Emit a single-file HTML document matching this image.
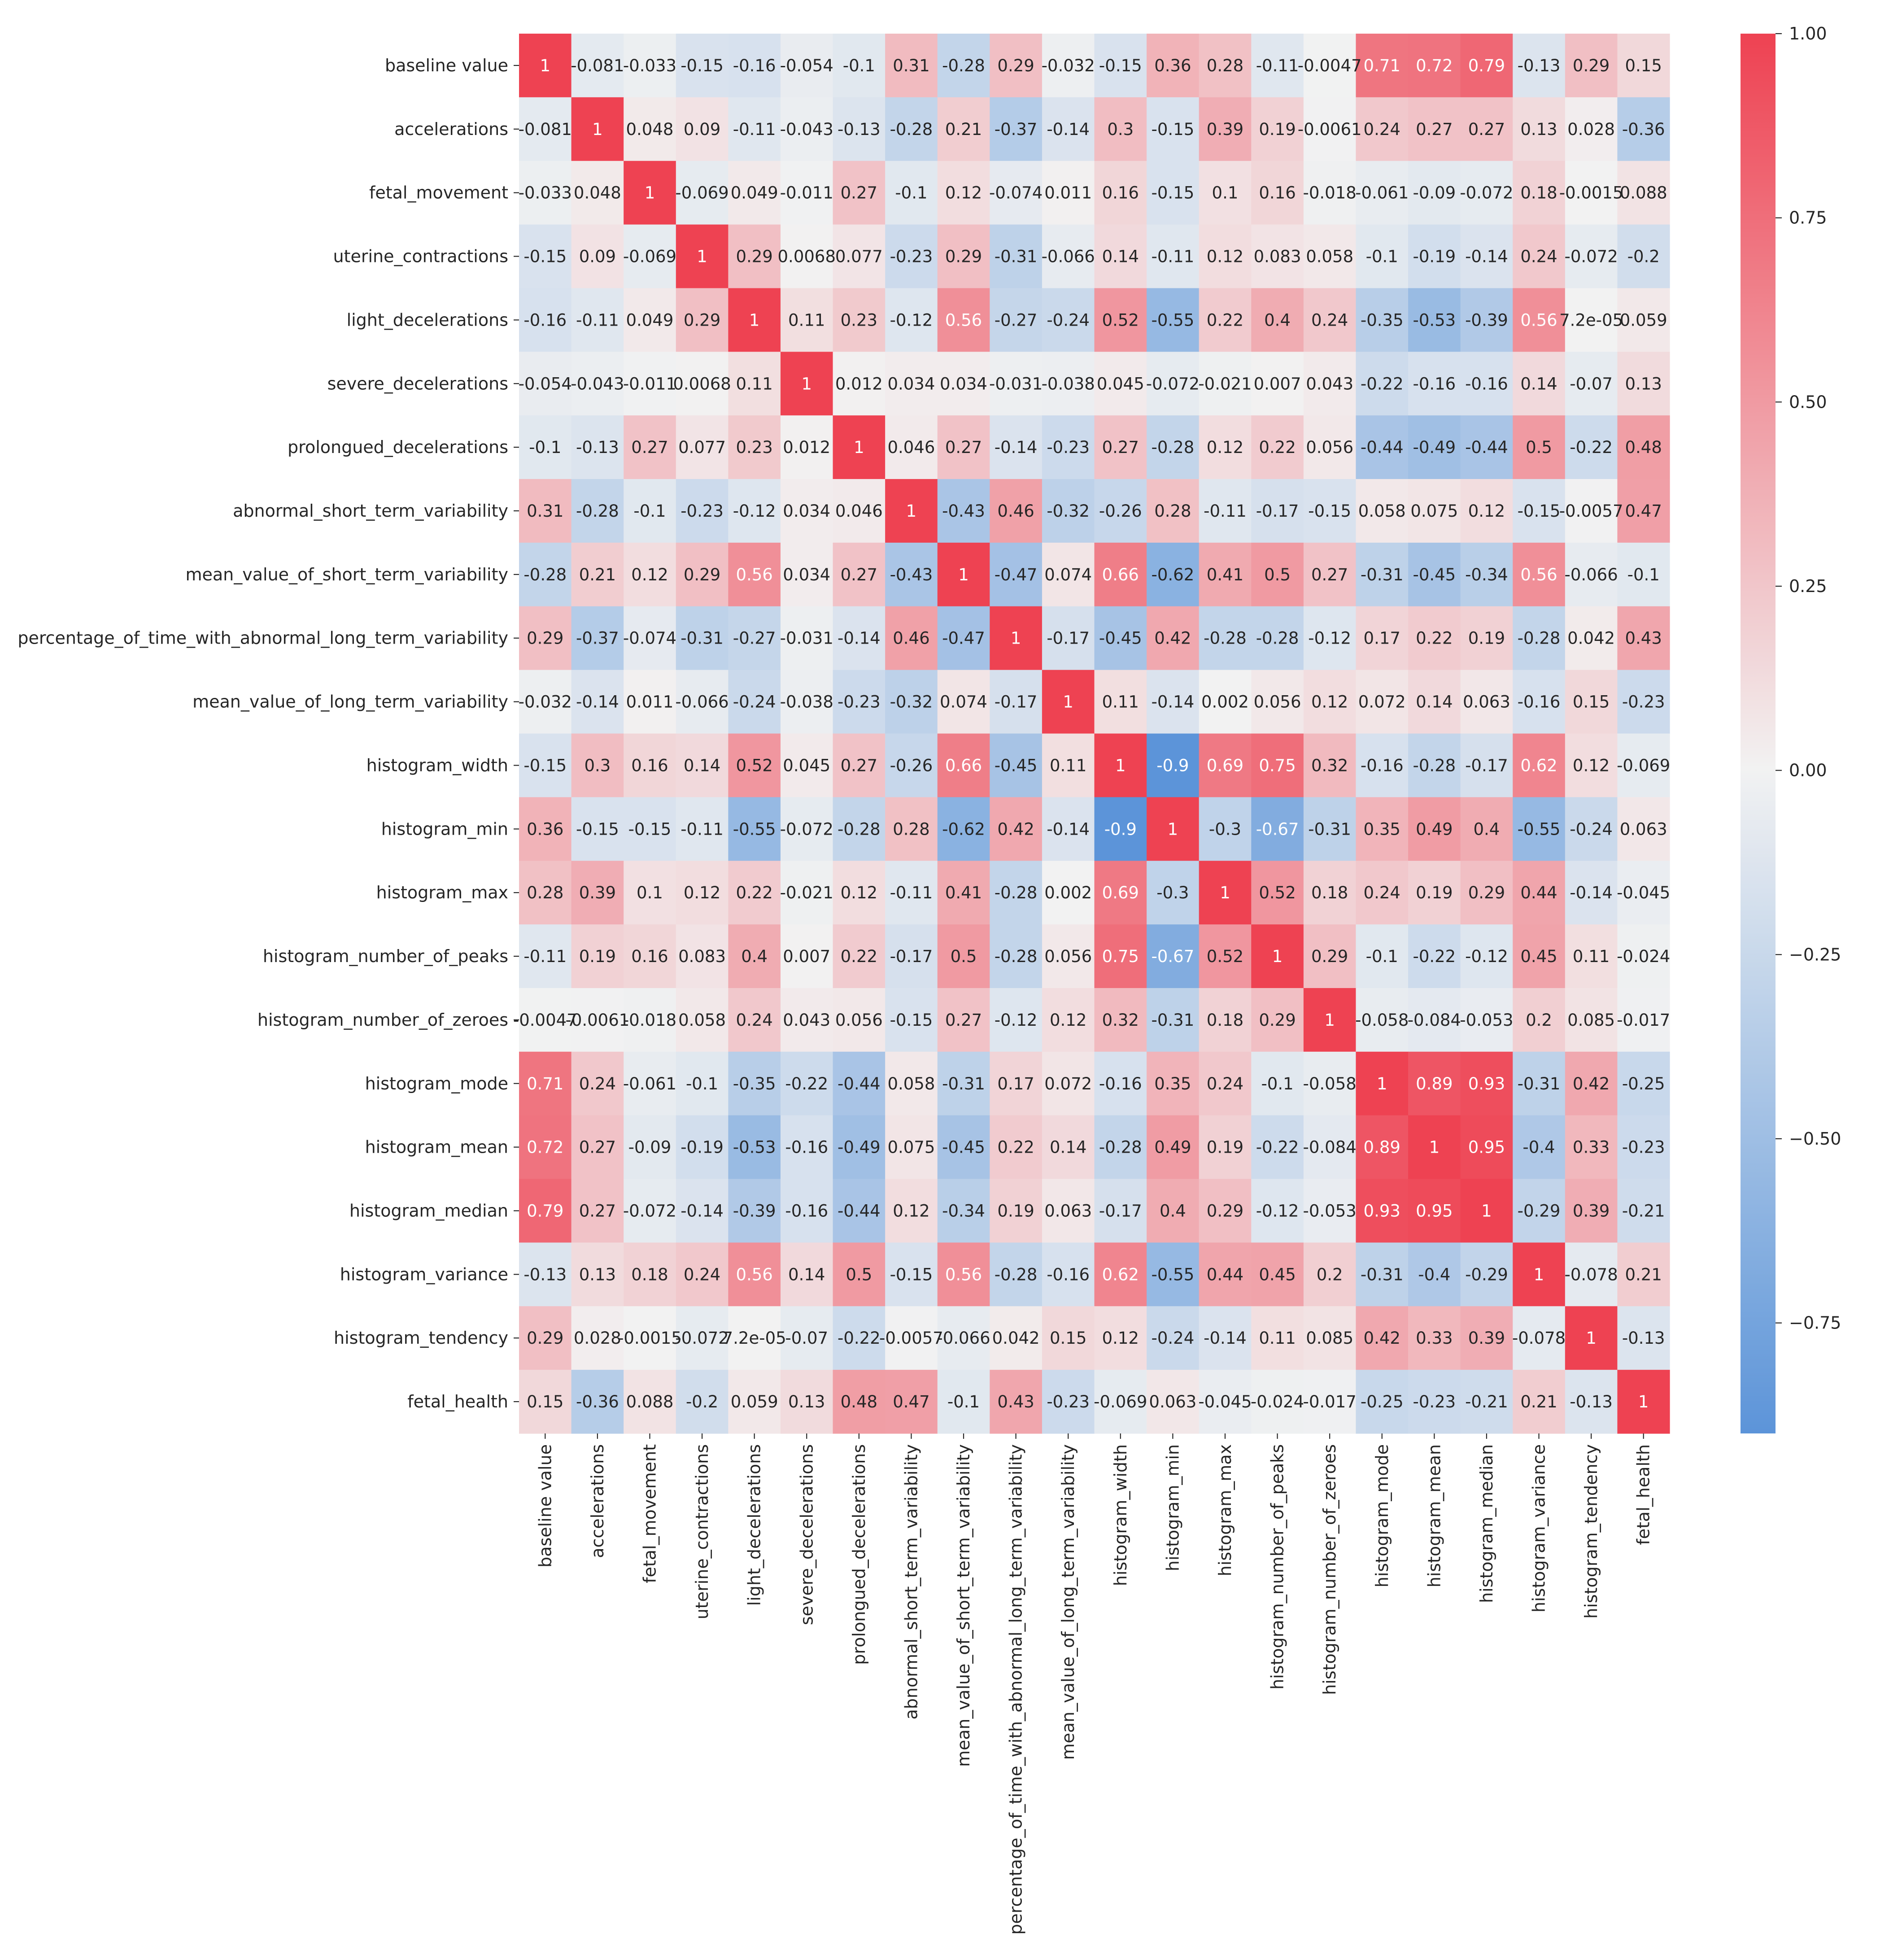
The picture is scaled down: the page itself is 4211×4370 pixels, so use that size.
<!DOCTYPE html>
<html><head><meta charset="utf-8">
<style>
html,body{margin:0;padding:0;background:#fff;}
svg{display:block;font-family:"DejaVu Sans","Liberation Sans",sans-serif;}
</style></head>
<body>
<svg id="chart" width="4211" height="4370" viewBox="0 0 4211 4370" xmlns="http://www.w3.org/2000/svg">
<defs>
<linearGradient id="cbgrad" x1="0" y1="1" x2="0" y2="0"></linearGradient>
</defs>
<g id="cells"></g>
<g id="annots"></g>
<g id="ylabels"></g>
<g id="xlabels"></g>
<g id="colorbar"></g>
</svg>
<script>
const labels = ["baseline value","accelerations","fetal_movement","uterine_contractions","light_decelerations","severe_decelerations","prolongued_decelerations","abnormal_short_term_variability","mean_value_of_short_term_variability","percentage_of_time_with_abnormal_long_term_variability","mean_value_of_long_term_variability","histogram_width","histogram_min","histogram_max","histogram_number_of_peaks","histogram_number_of_zeroes","histogram_mode","histogram_mean","histogram_median","histogram_variance","histogram_tendency","fetal_health"];
const row0 = [1,-0.081,-0.033,-0.15,-0.16,-0.054,-0.1,0.31,-0.28,0.29,-0.032,-0.15,0.36,0.28,-0.11,-0.0047,0.71,0.72,0.79,-0.13,0.29,0.15];
const row1 = [-0.081,1,0.048,0.09,-0.11,-0.043,-0.13,-0.28,0.21,-0.37,-0.14,0.3,-0.15,0.39,0.19,-0.0061,0.24,0.27,0.27,0.13,0.028,-0.36];
const row2 = [-0.033,0.048,1,-0.069,0.049,-0.011,0.27,-0.1,0.12,-0.074,0.011,0.16,-0.15,0.1,0.16,-0.018,-0.061,-0.09,-0.072,0.18,-0.0015,0.088];
const row3 = [-0.15,0.09,-0.069,1,0.29,0.0068,0.077,-0.23,0.29,-0.31,-0.066,0.14,-0.11,0.12,0.083,0.058,-0.1,-0.19,-0.14,0.24,-0.072,-0.2];
const row4 = [-0.16,-0.11,0.049,0.29,1,0.11,0.23,-0.12,0.56,-0.27,-0.24,0.52,-0.55,0.22,0.4,0.24,-0.35,-0.53,-0.39,0.56,7.2e-05,0.059];
const row5 = [-0.054,-0.043,-0.011,0.0068,0.11,1,0.012,0.034,0.034,-0.031,-0.038,0.045,-0.072,-0.021,0.007,0.043,-0.22,-0.16,-0.16,0.14,-0.07,0.13];
const row6 = [-0.1,-0.13,0.27,0.077,0.23,0.012,1,0.046,0.27,-0.14,-0.23,0.27,-0.28,0.12,0.22,0.056,-0.44,-0.49,-0.44,0.5,-0.22,0.48];
const row7 = [0.31,-0.28,-0.1,-0.23,-0.12,0.034,0.046,1,-0.43,0.46,-0.32,-0.26,0.28,-0.11,-0.17,-0.15,0.058,0.075,0.12,-0.15,-0.0057,0.47];
const row8 = [-0.28,0.21,0.12,0.29,0.56,0.034,0.27,-0.43,1,-0.47,0.074,0.66,-0.62,0.41,0.5,0.27,-0.31,-0.45,-0.34,0.56,-0.066,-0.1];
const row9 = [0.29,-0.37,-0.074,-0.31,-0.27,-0.031,-0.14,0.46,-0.47,1,-0.17,-0.45,0.42,-0.28,-0.28,-0.12,0.17,0.22,0.19,-0.28,0.042,0.43];
const row10 = [-0.032,-0.14,0.011,-0.066,-0.24,-0.038,-0.23,-0.32,0.074,-0.17,1,0.11,-0.14,0.002,0.056,0.12,0.072,0.14,0.063,-0.16,0.15,-0.23];
const row11 = [-0.15,0.3,0.16,0.14,0.52,0.045,0.27,-0.26,0.66,-0.45,0.11,1,-0.9,0.69,0.75,0.32,-0.16,-0.28,-0.17,0.62,0.12,-0.069];
const row12 = [0.36,-0.15,-0.15,-0.11,-0.55,-0.072,-0.28,0.28,-0.62,0.42,-0.14,-0.9,1,-0.3,-0.67,-0.31,0.35,0.49,0.4,-0.55,-0.24,0.063];
const row13 = [0.28,0.39,0.1,0.12,0.22,-0.021,0.12,-0.11,0.41,-0.28,0.002,0.69,-0.3,1,0.52,0.18,0.24,0.19,0.29,0.44,-0.14,-0.045];
const row14 = [-0.11,0.19,0.16,0.083,0.4,0.007,0.22,-0.17,0.5,-0.28,0.056,0.75,-0.67,0.52,1,0.29,-0.1,-0.22,-0.12,0.45,0.11,-0.024];
const row15 = [-0.0047,-0.0061,-0.018,0.058,0.24,0.043,0.056,-0.15,0.27,-0.12,0.12,0.32,-0.31,0.18,0.29,1,-0.058,-0.084,-0.053,0.2,0.085,-0.017];
const row16 = [0.71,0.24,-0.061,-0.1,-0.35,-0.22,-0.44,0.058,-0.31,0.17,0.072,-0.16,0.35,0.24,-0.1,-0.058,1,0.89,0.93,-0.31,0.42,-0.25];
const row17 = [0.72,0.27,-0.09,-0.19,-0.53,-0.16,-0.49,0.075,-0.45,0.22,0.14,-0.28,0.49,0.19,-0.22,-0.084,0.89,1,0.95,-0.4,0.33,-0.23];
const row18 = [0.79,0.27,-0.072,-0.14,-0.39,-0.16,-0.44,0.12,-0.34,0.19,0.063,-0.17,0.4,0.29,-0.12,-0.053,0.93,0.95,1,-0.29,0.39,-0.21];
const row19 = [-0.13,0.13,0.18,0.24,0.56,0.14,0.5,-0.15,0.56,-0.28,-0.16,0.62,-0.55,0.44,0.45,0.2,-0.31,-0.4,-0.29,1,-0.078,0.21];
const row20 = [0.29,0.028,-0.0015,-0.072,7.2e-05,-0.07,-0.22,-0.0057,-0.066,0.042,0.15,0.12,-0.24,-0.14,0.11,0.085,0.42,0.33,0.39,-0.078,1,-0.13];
const row21 = [0.15,-0.36,0.088,-0.2,0.059,0.13,0.48,0.47,-0.1,0.43,-0.23,-0.069,0.063,-0.045,-0.024,-0.017,-0.25,-0.23,-0.21,0.21,-0.13,1];
const matrix = [row0,row1,row2,row3,row4,row5,row6,row7,row8,row9,row10,row11,row12,row13,row14,row15,row16,row17,row18,row19,row20,row21];
const cbTicks = [1.0,0.75,0.5,0.25,0,-0.25,-0.5,-0.75];
const cbTickLabels = ["1.00","0.75","0.50","0.25","0.00","\u22120.25","\u22120.50","\u22120.75"];

const NS = "http://www.w3.org/2000/svg";
const L = 1157, R = 3722, T = 75, B = 3196;
const n = labels.length;
const cw = (R - L) / n, ch = (B - T) / n;
const xPos = i => L + i * cw;
const yPos = i => T + i * ch;
const red = [238,66,82], mid = [242,242,242], blue = [75,138,214];
function color(v) {
  const t = Math.max(-1, Math.min(1, v));
  const end = t >= 0 ? red : blue, a = Math.abs(t);
  return mid.map((m, k) => Math.round(m + (end[k] - m) * a));
}
function rgb(c) { return "rgb(" + c.join(",") + ")"; }
function lum(c) {
  const lin = c.map(x => { x /= 255; return x <= 0.03928 ? x / 12.92 : Math.pow((x + 0.055) / 1.055, 2.4); });
  return 0.2126 * lin[0] + 0.7152 * lin[1] + 0.0722 * lin[2];
}
function fmt(v) {
  if (v === 0) return "0";
  if (Math.abs(v) < 1e-4) {
    let s = v.toExponential(1);
    return s.replace(/e([+-])(\d)$/, "e$10$2");
  }
  let s = v.toPrecision(2);
  if (s.indexOf(".") >= 0) s = s.replace(/0+$/, "").replace(/\.$/, "");
  return s;
}
function mk(tag, attrs, parent) {
  const e = document.createElementNS(NS, tag);
  for (const k in attrs) e.setAttribute(k, attrs[k]);
  parent.appendChild(e);
  return e;
}
const gCells = document.getElementById("cells");
const gAnn = document.getElementById("annots");
for (let i = 0; i < n; i++) {
  for (let j = 0; j < n; j++) {
    const v = matrix[i][j];
    const c = color(v);
    const r = mk("rect", {x: xPos(j), y: yPos(i), width: cw + 0.6, height: ch + 0.6, fill: rgb(c)}, gCells);
    
    
    const t = mk("text", {x: xPos(j) + cw / 2, y: yPos(i) + ch / 2 + 13, "text-anchor": "middle", "font-size": 37, fill: lum(c) > 0.408 ? "#262626" : "#ffffff"}, gAnn);
    t.textContent = fmt(v);
    
    
  }
}
const gY = document.getElementById("ylabels");
const gX = document.getElementById("xlabels");
for (let i = 0; i < n; i++) {
  const yc = yPos(i) + ch / 2;
  const tk = mk("line", {x1: L - 12, x2: L, y1: yc, y2: yc, stroke: "#262626", "stroke-width": 2.2}, gY);
  
  
  const t = mk("text", {x: L - 24, y: yc + 13, "text-anchor": "end", "font-size": 38, fill: "#262626"}, gY);
  t.textContent = labels[i];
  
  
  const xc = xPos(i) + cw / 2;
  const tk2 = mk("line", {x1: xc, x2: xc, y1: B, y2: B + 12, stroke: "#262626", "stroke-width": 2.2}, gX);
  
  
  const t2 = mk("text", {x: 0, y: 0, "text-anchor": "end", "font-size": 38, fill: "#262626", transform: "translate(" + (xc + 13) + "," + (B + 24) + ") rotate(-90)"}, gX);
  t2.textContent = labels[i];
  
  
}
// colorbar
const CL = 3880, CR = 3958;
const cbMin = -0.9, cbMax = 1.0;
const cbY = v => B - (v - cbMin) / (cbMax - cbMin) * (B - T);
const grad = document.getElementById("cbgrad");
for (let k = 0; k <= 40; k++) {
  const v = cbMin + (cbMax - cbMin) * k / 40;
  mk("stop", {offset: (k / 40 * 100) + "%", "stop-color": rgb(color(v))}, grad);
}
const gCb = document.getElementById("colorbar");
const bar = mk("rect", {x: CL, y: T, width: CR - CL, height: B - T, fill: "url(#cbgrad)"}, gCb);


cbTicks.forEach((v, k) => {
  const y = cbY(v);
  const tk = mk("line", {x1: CR, x2: CR + 14, y1: y, y2: y, stroke: "#262626", "stroke-width": 2.2}, gCb);
  
  
  const t = mk("text", {x: CR + 30, y: y + 13, "font-size": 38, fill: "#262626"}, gCb);
  t.textContent = cbTickLabels[k];
  
  
});
</script>
</body></html>
